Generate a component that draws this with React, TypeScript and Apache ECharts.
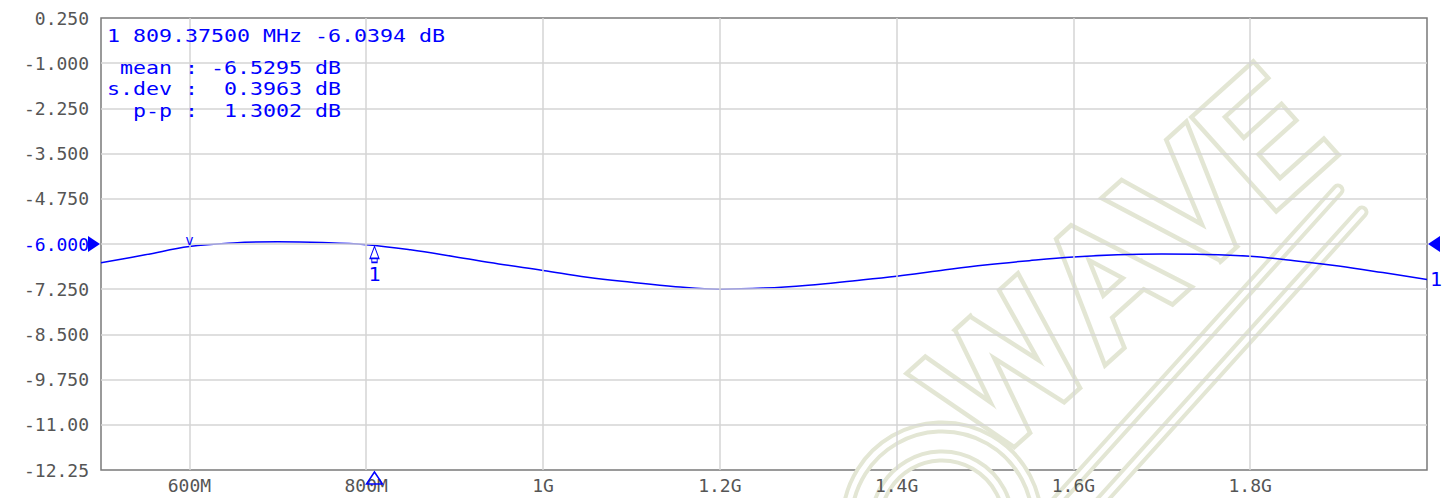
import React, { useEffect, useRef } from "react";
import * as echarts from "echarts";

// Trace data (frequency in MHz, level in dB)
const freqMHz = [500, 550, 600, 650, 700, 750, 800, 850, 900, 950, 1000, 1050, 1100, 1150, 1200, 1250, 1300, 1350, 1400, 1450, 1500, 1550, 1600, 1650, 1700, 1750, 1800, 1850, 1900, 1950, 2000];
const traceDb = [-6.52, -6.30, -6.07, -5.97, -5.94, -5.96, -6.02, -6.16, -6.35, -6.55, -6.73, -6.92, -7.06, -7.18, -7.25, -7.22, -7.14, -7.02, -6.89, -6.73, -6.58, -6.46, -6.36, -6.30, -6.28, -6.29, -6.34, -6.46, -6.61, -6.79, -6.98];

// Axis ticks
const xGridMHz = [600, 800, 1000, 1200, 1400, 1600, 1800];
const xTickLabels = ["600M", "800M", "1G", "1.2G", "1.4G", "1.6G", "1.8G"];
const yGridDb = [0.25, -1, -2.25, -3.5, -4.75, -6, -7.25, -8.5, -9.75, -11, -12.25];
const yTickLabels = ["0.250", "-1.000", "-2.250", "-3.500", "-4.750", "-6.000", "-7.250", "-8.500", "-9.750", "-11.00", "-12.25"];

// Markers and readouts
const refLevelDb = -6;
const refMarkerFreqMHz = 600;
const marker1FreqMHz = 809.375;
const marker1Db = -6.0394;
const readoutLine = "1 809.37500 MHz -6.0394 dB";
const statLines = [" mean : -6.5295 dB", "s.dev :  0.3963 dB", "  p-p :  1.3002 dB"];

// Watermark letters
const watermarkLetters = ["W", "A", "V", "E"];

const BLUE = "#0000ff";
const MONO = "DejaVu Sans Mono";
const nb = (s: string) => s.replace(/ /g, "\u00a0");

export default function App() {
  const ref = useRef<HTMLDivElement>(null);
  useEffect(() => {
    if (!ref.current) return;
    const chart = echarts.init(ref.current, undefined, { renderer: "svg" });
    const data = freqMHz.map((f, i) => [f, traceDb[i]]);
    const findIdx = (arr: number[], v: number) => arr.findIndex((a) => Math.abs(a - v) < 1e-6);
    const refMarkerDb = traceDb[freqMHz.indexOf(refMarkerFreqMHz)];

    const olive = "#e3e6d4";
    const ang = (42 * Math.PI) / 180;
    const dir = [Math.cos(ang), -Math.sin(ang)];
    const start = [944, 428];
    const letterOffsets = [83, 220, 328, 430];
    const wmLetter = (ch: string, k: number, fill: string, stroke: string, lw: number) => ({
      type: "text",
      x: start[0] + letterOffsets[k] * dir[0],
      y: start[1] + letterOffsets[k] * dir[1],
      rotation: ang,
      silent: true,
      z: 0,
      style: {
        text: ch,
        font: "normal 165px Roboto",
        fill,
        stroke,
        lineWidth: lw,
        lineJoin: "round",
        align: "center",
        verticalAlign: "middle",
      },
    });
    const band = (x1: number, y1: number, x2: number, y2: number, color: string, w: number) => ({
      type: "line",
      silent: true,
      z: 0,
      shape: { x1, y1, x2, y2 },
      style: { stroke: color, lineWidth: w, lineCap: "round" },
    });
    const ring = (r: number, color: string, w: number) => ({
      type: "circle",
      silent: true,
      z: 0,
      shape: { cx: 942, cy: 522, r },
      style: { fill: "none", stroke: color, lineWidth: w },
    });

    chart.setOption({
      animation: false,
      backgroundColor: "#ffffff",
      grid: {
        left: 101,
        right: 17,
        top: 18,
        bottom: 28,
        show: true,
        borderColor: "#7a7a7a",
        borderWidth: 1.5,
        backgroundColor: "transparent",
      },
      graphic: [
        band(1338, 190, 1040, 520, olive, 13),
        band(1338, 190, 1040, 520, "#ffffff", 5),
        band(1362, 212, 1068, 538, olive, 13),
        band(1362, 212, 1068, 538, "#ffffff", 5),
        ring(95, olive, 13),
        ring(95, "#ffffff", 5),
        ring(66, olive, 13),
        ring(66, "#ffffff", 5),
        ...watermarkLetters.map((ch, k) => wmLetter(ch, k, olive, olive, 14)),
        ...watermarkLetters.map((ch, k) => wmLetter(ch, k, "#ffffff", "#ffffff", 5)),
        {
          type: "text",
          x: 107,
          y: 36,
          scaleX: 1.2,
          z: 10,
          style: { text: nb(readoutLine), font: `18px '${MONO}'`, fill: BLUE, align: "left", verticalAlign: "middle" },
        },
        {
          type: "text",
          x: 107,
          y: 57.25,
          scaleX: 1.2,
          z: 10,
          style: {
            text: statLines.map(nb).join("\n"),
            font: `18px '${MONO}'`,
            lineHeight: 21.5,
            fill: BLUE,
            align: "left",
            verticalAlign: "top",
          },
        },
      ],
      xAxis: {
        type: "value",
        min: 500,
        max: 2000,
        interval: 100,
        axisLine: { show: false },
        axisTick: { show: false },
        splitLine: { show: false },
        axisLabel: {
          margin: 6,
          color: "#555555",
          fontFamily: MONO,
          fontSize: 18,
          formatter: (v: number) => {
            const i = findIdx(xGridMHz, v);
            return i >= 0 ? xTickLabels[i] : "";
          },
        },
      },
      yAxis: {
        type: "value",
        min: -12.25,
        max: 0.25,
        interval: 0.25,
        axisLine: { show: false },
        axisTick: { show: false },
        splitLine: { show: false },
        axisLabel: {
          margin: 12,
          color: "#555555",
          fontFamily: MONO,
          fontSize: 18,
          formatter: (v: number) => {
            const i = findIdx(yGridDb, v);
            if (i < 0) return "";
            return Math.abs(v - refLevelDb) < 1e-6 ? `{ref|${yTickLabels[i]}}` : yTickLabels[i];
          },
          rich: { ref: { color: BLUE, fontFamily: MONO, fontSize: 18 } },
        },
      },
      series: [
        {
          type: "line",
          z: 1,
          data,
          showSymbol: false,
          silent: true,
          lineStyle: { opacity: 0 },
          markLine: {
            silent: true,
            symbol: ["none", "none"],
            label: { show: false },
            lineStyle: { color: "#d4d4d4", width: 1.5, type: "solid" },
            data: [
              ...xGridMHz.map((x) => ({ xAxis: x })),
              ...yGridDb.slice(1, -1).map((y) => ({ yAxis: y })),
            ],
          },
        },
        {
          type: "line",
          z: 3,
          data,
          smooth: 0.4,
          showSymbol: false,
          silent: true,
          lineStyle: { color: BLUE, width: 1.5 },
          endLabel: {
            show: true,
            formatter: "1",
            color: BLUE,
            fontFamily: MONO,
            fontSize: 20,
            distance: 3,
          },
          markPoint: {
            silent: true,
            data: [
              {
                coord: [refMarkerFreqMHz, refMarkerDb],
                symbol: "circle",
                symbolSize: 0,
                label: { show: true, formatter: "v", position: "top", distance: 0, color: BLUE, fontFamily: MONO, fontSize: 14 },
              },
              {
                coord: [marker1FreqMHz, marker1Db],
                symbol: "path://M5,0 L10,12 L0,12 Z M2,12 L8,12 L8,16 L2,16 Z",
                symbolSize: [9, 16],
                symbolOffset: [0, 9],
                itemStyle: { color: "#ffffff", borderColor: BLUE, borderWidth: 1.2 },
                label: { show: true, formatter: "1", position: "bottom", distance: 1, color: BLUE, fontFamily: MONO, fontSize: 20 },
              },
              {
                coord: [marker1FreqMHz, -12.25],
                symbol: "triangle",
                symbolSize: [16, 12],
                symbolOffset: [0, 8],
                itemStyle: { color: "rgba(255,255,255,0)", borderColor: BLUE, borderWidth: 1.5 },
                label: { show: false },
              },
              {
                coord: [500, refLevelDb],
                symbol: "triangle",
                symbolRotate: -90,
                symbolSize: [16, 12],
                symbolOffset: [-7, 0],
                itemStyle: { color: BLUE },
                label: { show: false },
              },
              {
                coord: [2000, refLevelDb],
                symbol: "triangle",
                symbolRotate: 90,
                symbolSize: [16, 12],
                symbolOffset: [7, 0],
                itemStyle: { color: BLUE },
                label: { show: false },
              },
            ],
          },
        },
      ],
    });
    return () => chart.dispose();
  }, []);
  return (
    <div
      ref={ref}
      style={{ position: "fixed", left: 0, top: 0, width: 1444, height: 498, background: "#fff" }}
    />
  );
}
